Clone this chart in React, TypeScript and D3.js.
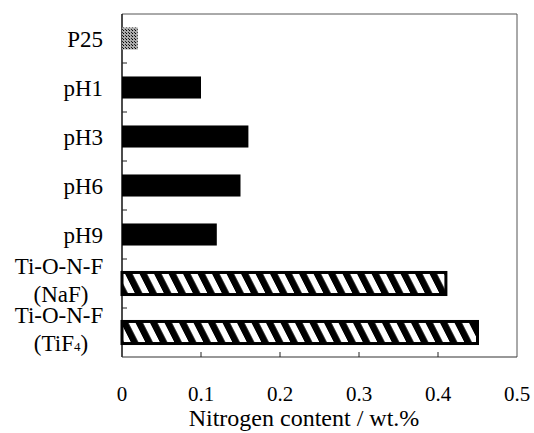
import React from 'react';
import * as d3 from 'd3';

const categories = ['P25', 'pH1', 'pH3', 'pH6', 'pH9', 'Ti-O-N-F (NaF)', 'Ti-O-N-F (TiF4)'];
const nitrogen = [0.02, 0.1, 0.16, 0.15, 0.12, 0.41, 0.45];
const fills = ['gray', 'solid', 'solid', 'solid', 'solid', 'hatch', 'hatch'];
const xTicks = [0, 0.1, 0.2, 0.3, 0.4, 0.5];

const W = 534;
const H = 433;
const font = "'Liberation Serif', 'Times New Roman', Times, serif";

const App = () => {
    const x = d3.scaleLinear().domain([0, 0.5]).range([122, 517]);
    const y = d3.scaleBand<string>().domain(categories).range([14, 357]).paddingInner(0.55).paddingOuter(0.275);
    const step = y.step();
    const bottom = 357;
    const top = 14;

    // ticks between bands
    const yTicks = categories.slice(1).map(c => (y(c) as number) - (step - y.bandwidth()) / 2);

    const fillOf = (f: string) => f === 'solid' ? '#000' : f === 'hatch' ? 'url(#hatch)' : 'url(#dots)';

    const label = (c: string) => {
        const cy = (y(c) as number) + y.bandwidth() / 2;
        if (c.startsWith('Ti-O-N-F')) {
            const sub = c.includes('TiF4');
            return (
                <g key={c} style={{ fontSize: 23 }}>
                    <text x={59} y={cy - 10} textAnchor="middle">Ti-O-N-F</text>
                    <text x={61} y={cy + 18} textAnchor="middle">
                        {sub ? <>(TiF<tspan style={{ fontSize: 13 }}>4</tspan>)</> : '(NaF)'}
                    </text>
                </g>
            );
        }
        return <text key={c} x={103} y={cy + 8} textAnchor="end" style={{ fontSize: 23 }}>{c}</text>;
    };

    return (
        <svg width={W} height={H} style={{ position: 'absolute', left: 0, top: 0, background: '#fff', fontFamily: font }}>
            <defs>
                <pattern id="hatch" patternUnits="userSpaceOnUse" width={14.5} height={4} patternTransform="skewX(27)">
                    <rect width={14.5} height={4} fill="#fff" />
                    <rect width={7.5} height={4} fill="#000" />
                </pattern>
                <pattern id="dots" patternUnits="userSpaceOnUse" width={3} height={3}>
                    <rect width={3} height={3} fill="#aaa" />
                    <rect width={1} height={1} fill="#000" />
                    <rect x={2} y={2} width={1} height={1} fill="#222" />
                </pattern>
            </defs>
            <rect x={0} y={0} width={W} height={H} fill="#fff" />

            {/* frame */}
            <line x1={x(0)} x2={x(0.5)} y1={top} y2={top} stroke="#555" strokeWidth={1} />
            <line x1={x(0.5)} x2={x(0.5)} y1={top} y2={bottom} stroke="#555" strokeWidth={1} />
            <line x1={x(0)} x2={x(0)} y1={top} y2={bottom} stroke="#111" strokeWidth={1.5} />
            <line x1={x(0)} x2={x(0.5)} y1={bottom} y2={bottom} stroke="#333" strokeWidth={1.2} />

            {yTicks.map((t, i) => (
                <line key={i} x1={x(0)} x2={x(0) + 5} y1={t} y2={t} stroke="#222" />
            ))}
            {xTicks.slice(1, -1).map(t => (
                <line key={t} x1={x(t)} x2={x(t)} y1={bottom} y2={bottom - 5} stroke="#222" />
            ))}

            {categories.map((c, i) => (
                <rect key={c} x={x(0)} y={y(c)} width={x(nitrogen[i]) - x(0)} height={y.bandwidth()}
                    fill={fillOf(fills[i])}
                    stroke={fills[i] === 'hatch' ? '#000' : 'none'} strokeWidth={3} />
            ))}

            {categories.map(label)}

            {xTicks.map(t => (
                <text key={t} x={x(t)} y={401} textAnchor="middle" style={{ fontSize: 21 }}>{t === 0 ? '0' : d3.format('.1f')(t)}</text>
            ))}
            <text x={304} y={426} textAnchor="middle" style={{ fontSize: 24 }}>Nitrogen content / wt.%</text>
        </svg>
    );
};

export default App;
